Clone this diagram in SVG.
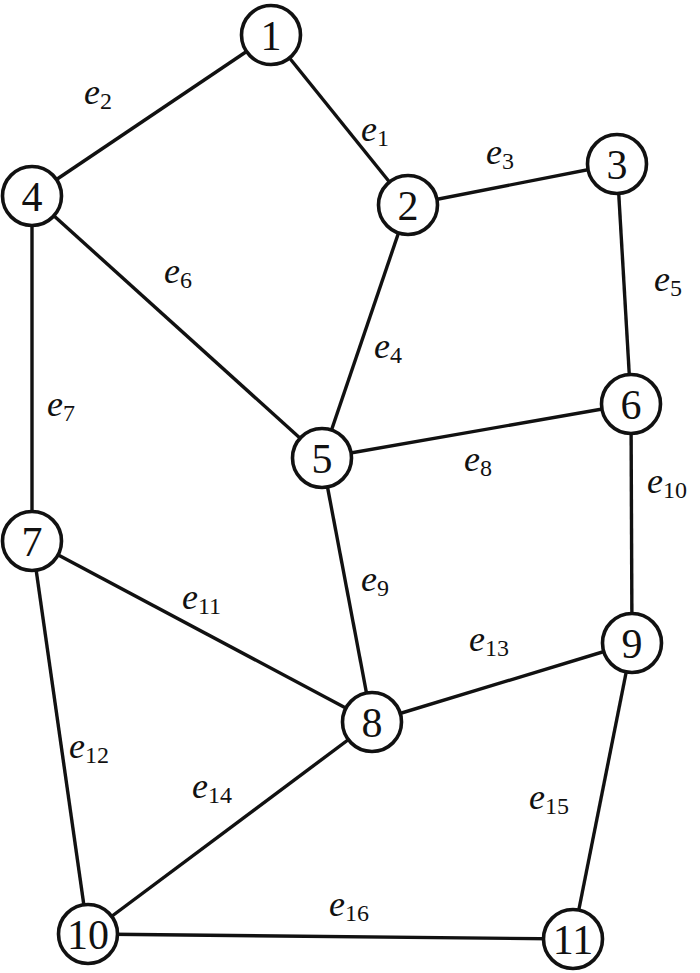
<svg xmlns="http://www.w3.org/2000/svg" width="700" height="973" viewBox="0 0 700 973">
<style>
.edge{stroke:#111;stroke-width:3.4;fill:none}
.node circle{fill:#fff;stroke:#111;stroke-width:3.6}
.node text{font-family:"Liberation Serif",serif;font-size:42px;fill:#111;text-anchor:middle}
.lbl{font-family:"Liberation Serif",serif;font-size:36px;font-style:italic;fill:#111}
.sub{font-size:24px;font-style:normal}
</style>
<rect width="700" height="973" fill="#fff"/>
<g id="edges">
<line class="edge" x1="271" y1="35" x2="408" y2="205"/>
<line class="edge" x1="271" y1="35" x2="32" y2="196"/>
<line class="edge" x1="408" y1="205" x2="617" y2="164"/>
<line class="edge" x1="408" y1="205" x2="322" y2="458"/>
<line class="edge" x1="32" y1="196" x2="322" y2="458"/>
<line class="edge" x1="32" y1="196" x2="32" y2="541"/>
<line class="edge" x1="617" y1="164" x2="631" y2="404"/>
<line class="edge" x1="322" y1="458" x2="631" y2="404"/>
<line class="edge" x1="322" y1="458" x2="372" y2="722"/>
<line class="edge" x1="631" y1="404" x2="632" y2="643"/>
<line class="edge" x1="32" y1="541" x2="372" y2="722"/>
<line class="edge" x1="32" y1="541" x2="88" y2="934"/>
<line class="edge" x1="372" y1="722" x2="632" y2="643"/>
<line class="edge" x1="372" y1="722" x2="88" y2="934"/>
<line class="edge" x1="632" y1="643" x2="573" y2="939"/>
<line class="edge" x1="88" y1="934" x2="573" y2="939"/>
</g>
<g id="labels">
<text class="lbl" x="361" y="141">e<tspan class="sub" dy="5">1</tspan></text>
<text class="lbl" x="84" y="104">e<tspan class="sub" dy="5">2</tspan></text>
<text class="lbl" x="486" y="164">e<tspan class="sub" dy="5">3</tspan></text>
<text class="lbl" x="374" y="358">e<tspan class="sub" dy="5">4</tspan></text>
<text class="lbl" x="654" y="291">e<tspan class="sub" dy="5">5</tspan></text>
<text class="lbl" x="164" y="283">e<tspan class="sub" dy="5">6</tspan></text>
<text class="lbl" x="47" y="416">e<tspan class="sub" dy="5">7</tspan></text>
<text class="lbl" x="464" y="471">e<tspan class="sub" dy="5">8</tspan></text>
<text class="lbl" x="361" y="591">e<tspan class="sub" dy="5">9</tspan></text>
<text class="lbl" x="647" y="493">e<tspan class="sub" dy="5">10</tspan></text>
<text class="lbl" x="182" y="609">e<tspan class="sub" dy="5">11</tspan></text>
<text class="lbl" x="69" y="758">e<tspan class="sub" dy="5">12</tspan></text>
<text class="lbl" x="469" y="651">e<tspan class="sub" dy="5">13</tspan></text>
<text class="lbl" x="192" y="798">e<tspan class="sub" dy="5">14</tspan></text>
<text class="lbl" x="529" y="809">e<tspan class="sub" dy="5">15</tspan></text>
<text class="lbl" x="329" y="916">e<tspan class="sub" dy="5">16</tspan></text>
</g>
<g id="n1" class="node"><circle cx="271" cy="35" r="29.5"/><text x="271" y="50">1</text></g>
<g id="n2" class="node"><circle cx="408" cy="205" r="29.5"/><text x="408" y="220">2</text></g>
<g id="n3" class="node"><circle cx="617" cy="164" r="29.5"/><text x="617" y="179">3</text></g>
<g id="n4" class="node"><circle cx="32" cy="196" r="29.5"/><text x="32" y="211">4</text></g>
<g id="n5" class="node"><circle cx="322" cy="458" r="29.5"/><text x="322" y="473">5</text></g>
<g id="n6" class="node"><circle cx="631" cy="404" r="29.5"/><text x="631" y="419">6</text></g>
<g id="n7" class="node"><circle cx="32" cy="541" r="29.5"/><text x="32" y="556">7</text></g>
<g id="n8" class="node"><circle cx="372" cy="722" r="29.5"/><text x="372" y="737">8</text></g>
<g id="n9" class="node"><circle cx="632" cy="643" r="29.5"/><text x="632" y="658">9</text></g>
<g id="n10" class="node"><circle cx="88" cy="934" r="29.5"/><text x="88" y="949">10</text></g>
<g id="n11" class="node"><circle cx="573" cy="939" r="29.5"/><text x="573" y="954">11</text></g>
</svg>
